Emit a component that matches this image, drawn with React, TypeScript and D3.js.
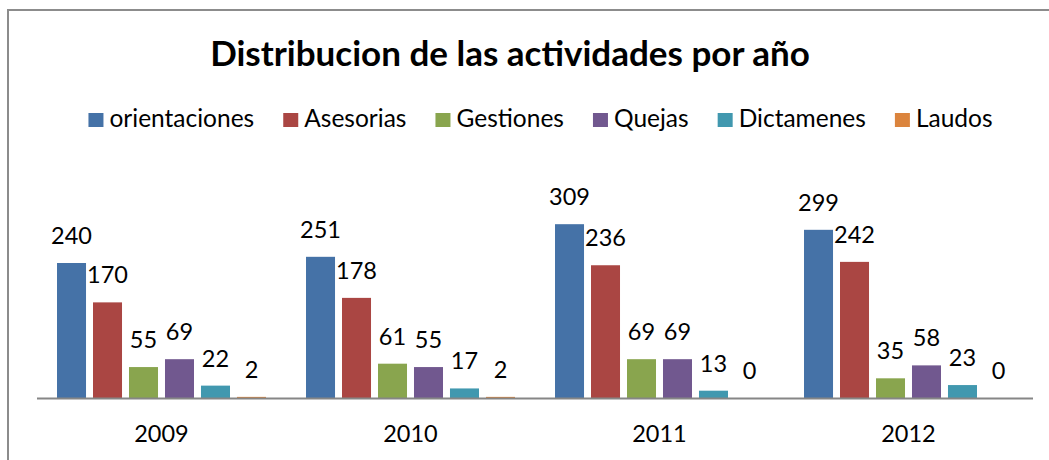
import React, { useRef, useEffect } from "react";
import * as d3 from "d3";

/* data */
const YEARS = ["2009", "2010", "2011", "2012"];
const SERIES = ["orientaciones", "Asesorias", "Gestiones", "Quejas", "Dictamenes", "Laudos"];
const ORIENTACIONES = [240, 251, 309, 299];
const ASESORIAS = [170, 178, 236, 242];
const GESTIONES = [55, 61, 69, 35];
const QUEJAS = [69, 55, 69, 58];
const DICTAMENES = [22, 17, 13, 23];
const LAUDOS = [2, 2, 0, 0];
const COLORS = ["#4572A7", "#AA4643", "#89A54E", "#71588F", "#4198AF", "#DB843D"];

const TITLE = "Distribucion de las actividades por año";
const FONT = "Lato, 'Open Sans', sans-serif";

export default function App() {
  const svgRef = useRef<SVGSVGElement>(null);

  useEffect(() => {
    const W = 1049;
    const H = 460;
    const values = [ORIENTACIONES, ASESORIAS, GESTIONES, QUEJAS, DICTAMENES, LAUDOS];
    const rows = YEARS.map((year, i) => ({
      year,
      items: SERIES.map((s, j) => ({ key: s, value: values[j][i], color: COLORS[j] })),
    }));

    /* ---- scales ---- */
    const x0 = d3.scaleBand<string>().domain(YEARS).range([37, 1033]);
    const x1 = d3
      .scaleBand<string>()
      .domain(SERIES)
      .range([0, x0.bandwidth()])
      .paddingInner(0.194)
      .paddingOuter(0.556);
    const y = d3.scaleLinear().domain([0, 320]).range([398, 218]);

    const svg = d3
      .select(svgRef.current)
      .attr("viewBox", `0 0 ${W} ${H}`)
      .style("font-family", FONT);
    svg.selectAll("*").remove();

    svg.append("rect").attr("width", W).attr("height", H).attr("fill", "#fff");

    /* ---- outer frame (runs off the picture right and bottom) ---- */
    svg
      .append("rect")
      .attr("x", 8)
      .attr("y", 10)
      .attr("width", W + 20)
      .attr("height", H + 20)
      .attr("fill", "none")
      .attr("stroke", "#8c8c8c")
      .attr("stroke-width", 2);

    /* ---- title ---- */
    svg
      .append("text")
      .attr("x", 510)
      .attr("y", 66)
      .attr("text-anchor", "middle")
      .style("font-size", "35px")
      .style("font-weight", 700)
      .attr("fill", "#000")
      .text(TITLE);

    /* ---- legend, laid out by measured text ---- */
    const legend = svg.append("g");
    let lx = 0;
    SERIES.forEach((s, j) => {
      const item = legend.append("g").attr("transform", `translate(${lx},0)`);
      item
        .append("rect")
        .attr("x", 0)
        .attr("y", 113)
        .attr("width", 15)
        .attr("height", 14)
        .attr("fill", COLORS[j]);
      const t = item
        .append("text")
        .attr("x", 21)
        .attr("y", 127)
        .style("font-size", "24.5px")
        .attr("fill", "#000")
        .text(s);
      const tw = (t.node() as SVGTextElement).getComputedTextLength();
      lx += 21 + tw + 29;
    });
    const legendW = lx - 29;
    legend.attr("transform", `translate(${540.5 - legendW / 2},0)`);

    /* ---- bars ---- */
    const groups = svg
      .selectAll("g.year")
      .data(rows)
      .enter()
      .append("g")
      .attr("class", "year")
      .attr("transform", (d) => `translate(${x0(d.year)},0)`);

    groups
      .selectAll("rect")
      .data((d) => d.items)
      .enter()
      .append("rect")
      .attr("x", (d) => x1(d.key)!)
      .attr("y", (d) => y(d.value))
      .attr("width", x1.bandwidth())
      .attr("height", (d) => y(0) - y(d.value))
      .attr("fill", (d) => d.color);

    groups
      .selectAll("text")
      .data((d) => d.items)
      .enter()
      .append("text")
      .attr("x", (d) => x1(d.key)! + x1.bandwidth() / 2)
      .attr("y", (d) => y(d.value) - 19)
      .attr("text-anchor", "middle")
      .style("font-size", "23.5px")
      .attr("fill", "#000")
      .text((d) => d.value);

    /* ---- x axis ---- */
    svg
      .append("line")
      .attr("x1", 37)
      .attr("x2", 1033)
      .attr("y1", y(0) + 0.5)
      .attr("y2", y(0) + 0.5)
      .attr("stroke", "#868686")
      .attr("stroke-width", 2);

    svg
      .append("g")
      .selectAll("text")
      .data(YEARS)
      .enter()
      .append("text")
      .attr("x", (d) => x0(d)! + x0.bandwidth() / 2)
      .attr("y", 442)
      .attr("text-anchor", "middle")
      .style("font-size", "23.5px")
      .attr("fill", "#000")
      .text((d) => d);
  }, []);

  return (
    <svg
      ref={svgRef}
      width={1049}
      height={460}
      style={{ position: "absolute", left: 0, top: 0, display: "block" }}
    />
  );
}
